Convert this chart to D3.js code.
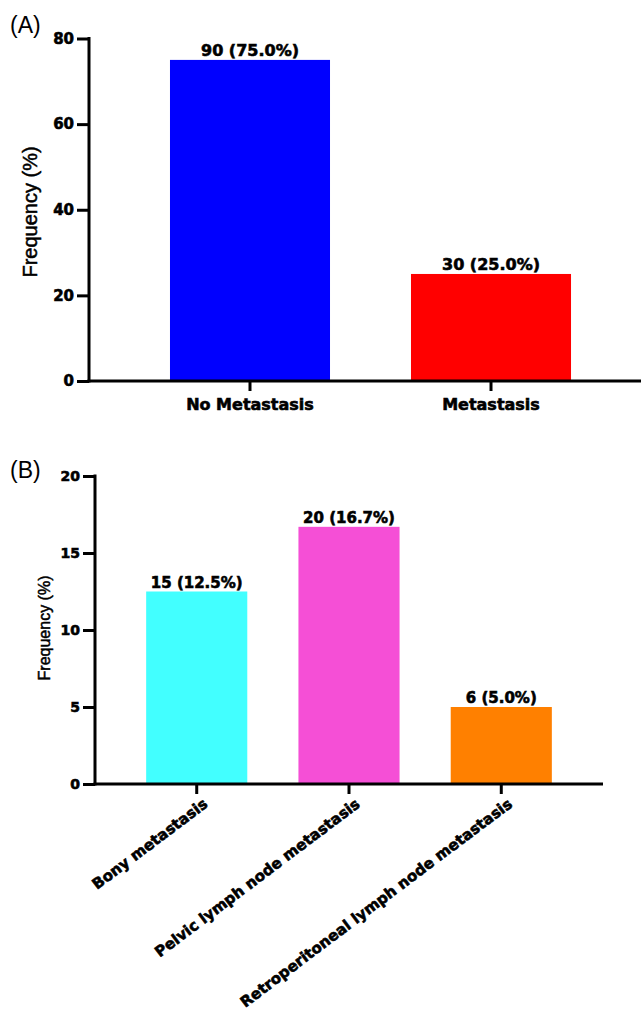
<!DOCTYPE html>
<html>
<head>
<meta charset="utf-8">
<script src="https://cdn.jsdelivr.net/npm/d3@7"></script>
<style>
  html, body { margin: 0; padding: 0; background: #fff; }
  svg { display: block; }
</style>
</head>
<body>
<svg id="chart" width="641" height="1012"></svg>
<script>
// ---- Data ----
const categoriesA = ["No Metastasis", "Metastasis"];
const valuesA = [75.0, 25.0];
const labelsA = ["90 (75.0%)", "30 (25.0%)"];
const colorsA = ["#0000ff", "#ff0000"];
const ticksA = [0, 20, 40, 60, 80];

const categoriesB = ["Bony metastasis", "Pelvic lymph node metastasis", "Retroperitoneal lymph node metastasis"];
const valuesB = [12.5, 16.7, 5.0];
const labelsB = ["15 (12.5%)", "20 (16.7%)", "6 (5.0%)"];
const colorsB = ["#42ffff", "#f54fd6", "#ff8000"];
const ticksB = [0, 5, 10, 15, 20];

const svg = d3.select("#chart");
const boldFont = "'DejaVu Sans', sans-serif";
const plainFont = "'Liberation Sans', Arial, sans-serif";

function heavy(sel, w) {
  return sel.attr("stroke", "#000").attr("stroke-width", w).attr("paint-order", "stroke");
}

function panel(opt) {
  const g = svg.append("g");
  const x = d3.scaleBand().domain(opt.cats).range(opt.xRange)
    .paddingInner(opt.pad).paddingOuter(opt.pad);
  const y = d3.scaleLinear().domain([0, opt.max]).range(opt.yRange);

  // bars
  g.selectAll("rect.bar").data(opt.vals).join("rect")
    .attr("class", "bar")
    .attr("x", (d, i) => x(opt.cats[i]))
    .attr("width", x.bandwidth())
    .attr("y", d => y(d))
    .attr("height", d => y(0) - y(d))
    .attr("fill", (d, i) => opt.colors[i]);

  // bar labels
  heavy(g.selectAll("text.vlab").data(opt.vals).join("text")
    .attr("class", "vlab")
    .attr("x", (d, i) => x(opt.cats[i]) + x.bandwidth() / 2)
    .attr("y", d => y(d) - 4)
    .attr("text-anchor", "middle")
    .attr("font-family", boldFont)
    .attr("font-weight", "bold")
    .attr("font-size", opt.labSize)
    .attr("fill", "#000")
    .text((d, i) => opt.labels[i]), 0.6);

  // y axis
  const ya = g.append("g")
    .attr("transform", `translate(${opt.xRange[0]},0)`)
    .call(d3.axisLeft(y).tickValues(opt.ticks).tickSize(12).tickPadding(3).tickFormat(d3.format("d")));
  ya.select(".domain").attr("stroke-width", 3).attr("d", `M0,${y(0) + 1.5}V${y(opt.max) - 1.5}`);
  ya.selectAll(".tick line").attr("stroke-width", 3);
  heavy(ya.selectAll(".tick text")
    .attr("font-family", boldFont).attr("font-weight", "bold")
    .attr("font-size", opt.tickSize).attr("fill", "#000"), 0.6);

  // x axis
  const xa = g.append("g")
    .attr("transform", `translate(0,${y(0)})`)
    .call(d3.axisBottom(x).tickSize(10).tickPadding(8));
  xa.select(".domain").attr("stroke-width", 3)
    .attr("d", `M${opt.xRange[0] - 1.5},0H${opt.xEnd}`);
  xa.selectAll(".tick line").attr("stroke-width", 3);
  const xt = heavy(xa.selectAll(".tick text")
    .attr("font-family", boldFont).attr("font-weight", "bold")
    .attr("font-size", opt.xSize).attr("fill", "#000"), 0.6);
  if (opt.rotate) {
    xt.attr("text-anchor", "end")
      .attr("y", 0).attr("dy", 0)
      .attr("transform", `translate(12,22) rotate(${opt.rotate})`);
  } else {
    xt.attr("y", 0).attr("dy", opt.xLabDy);
  }

  // y title
  heavy(g.append("text")
    .attr("transform", `translate(${opt.titleX},${opt.titleY}) rotate(-90)`)
    .attr("text-anchor", "middle")
    .attr("font-family", plainFont)
    .attr("font-size", opt.titleSize)
    .attr("fill", "#000")
    .text("Frequency (%)"), 0.5);

  // panel letter
  g.append("text")
    .attr("x", 10).attr("y", opt.letterY)
    .attr("font-family", plainFont)
    .attr("font-size", 23)
    .attr("fill", "#000")
    .text(opt.letter);
}

panel({
  cats: categoriesA, vals: valuesA, labels: labelsA, colors: colorsA, ticks: ticksA,
  max: 80, xRange: [89, 652], xEnd: 641, yRange: [381, 38.5], pad: 0.336,
  labSize: 16, tickSize: 15, xSize: 16, xLabDy: 29,
  titleX: 37, titleY: 212, titleSize: 20, letter: "(A)", letterY: 33
});

panel({
  cats: categoriesB, vals: valuesB, labels: labelsB, colors: colorsB, ticks: ticksB,
  max: 20, xRange: [95, 603], xEnd: 603, yRange: [784, 476], pad: 0.336,
  labSize: 15, tickSize: 14, xSize: 15, rotate: -37,
  titleX: 50, titleY: 628, titleSize: 16, letter: "(B)", letterY: 478
});
</script>
</body>
</html>
